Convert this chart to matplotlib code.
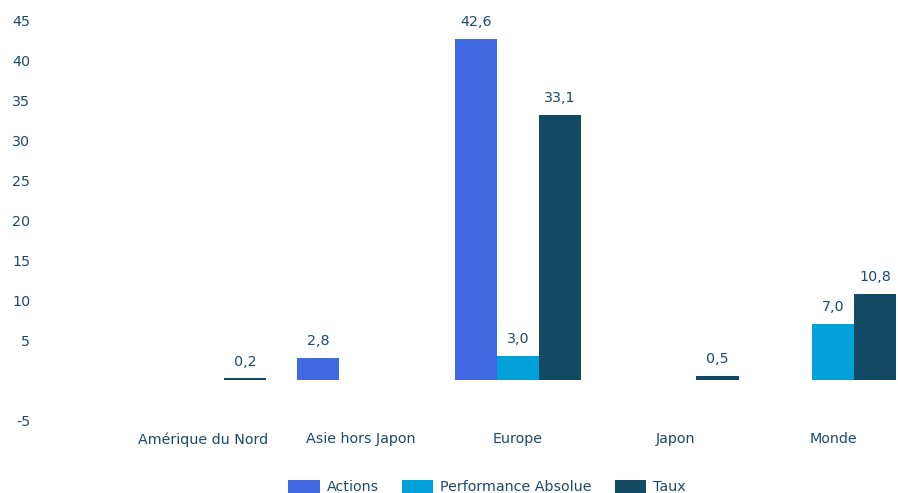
import numpy as np
import matplotlib.pyplot as plt

regions = ["Amérique du Nord", "Asie hors Japon", "Europe", "Japon", "Monde"]
actions = [np.nan, 2.8, 42.6, np.nan, np.nan]
perf_absolue = [np.nan, np.nan, 3.0, np.nan, 7.0]
taux = [0.2, np.nan, 33.1, 0.5, 10.8]

series = [
	("Actions", actions, "#4169E1"),
	("Performance Absolue", perf_absolue, "#00A0DA"),
	("Taux", taux, "#124963"),
]
text_color = "#1B4A6B"
fs = 10.3

fig = plt.figure(figsize=(8.98, 4.93), dpi=100)
ax = fig.add_axes([40 / 898, 1 - 428 / 493, 858 / 898, 428 / 493])

x = np.arange(len(regions))
w = 0.267
for k, (name, vals, col) in enumerate(series):
	pos = x + (k - 1) * w
	ax.bar(pos, vals, width=w, color=col, label=name)
	for px, v in zip(pos, vals):
		if np.isnan(v):
			continue
		ax.annotate(f"{v:.1f}".replace(".", ","), (px, v), xytext=(0, 7),
			textcoords="offset points", ha="center", va="bottom",
			fontsize=fs, color=text_color)

ax.set_xlim(-1.035, 4.413)
ax.set_ylim(-6, 47.5)
yt = [-5, 5, 10, 15, 20, 25, 30, 35, 40, 45]
ax.set_yticks(yt)
ax.set_yticklabels([str(t) for t in yt])
ax.set_xticks(x)
ax.set_xticklabels(regions)
ax.tick_params(length=0, labelsize=fs, labelcolor=text_color)
ax.tick_params(axis="x", pad=3)
ax.tick_params(axis="y", pad=7)
for s in ax.spines.values():
	s.set_visible(False)

fig.legend(loc="center", bbox_to_anchor=(487 / 898, 6 / 493), ncol=3,
	frameon=False, fontsize=fs, labelcolor=text_color,
	handlelength=2.2, handleheight=1.1, handletextpad=0.5, columnspacing=1.6)

fig.savefig("out.png", dpi=100)
